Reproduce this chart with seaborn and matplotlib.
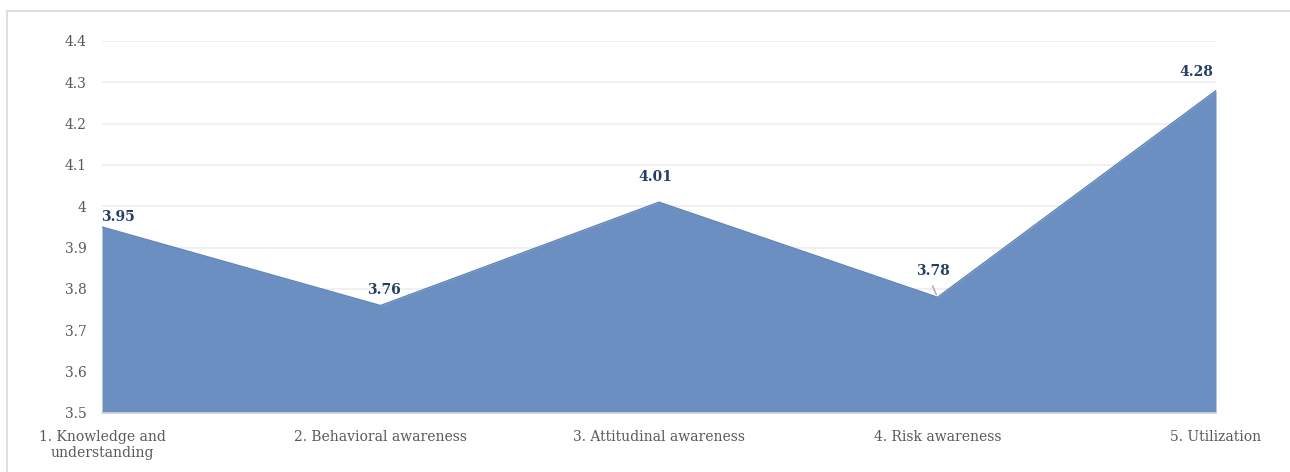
import matplotlib
matplotlib.use("Agg")
import matplotlib.pyplot as plt
import seaborn as sns
import pandas as pd
from matplotlib.lines import Line2D

categories = ["1. Knowledge and\nunderstanding", "2. Behavioral awareness",
              "3. Attitudinal awareness", "4. Risk awareness", "5. Utilization"]
scores = [3.95, 3.76, 4.01, 3.78, 4.28]
yticks = [3.5, 3.6, 3.7, 3.8, 3.9, 4.0, 4.1, 4.2, 4.3, 4.4]
ytick_labels = ["3.5", "3.6", "3.7", "3.8", "3.9", "4", "4.1", "4.2", "4.3", "4.4"]

sns.set_theme(style="white")
plt.rcParams["font.family"] = ["DejaVu Serif"]

W, H = 1290, 472
fig = plt.figure(figsize=(W / 100, H / 100), dpi=100)
left, right, top, bottom = 102, 1216, 41, 413
ax = fig.add_axes([left / W, 1 - bottom / H, (right - left) / W, (bottom - top) / H])

df = pd.DataFrame({"pos": range(len(categories)), "score": scores})
fill_color = "#6B8FC0"
ax.fill_between(df["pos"], 3.5, df["score"], color=fill_color, lw=0, zorder=2)
sns.lineplot(data=df, x="pos", y="score", ax=ax, color="#5F84B8", lw=1.0, zorder=3)

ax.set_xlim(0, len(categories) - 1)
ax.set_ylim(3.5, 4.4)
ax.set_yticks(yticks)
ax.set_yticklabels(ytick_labels)
ax.set_xticks(range(len(categories)))
ax.set_xticklabels(categories, linespacing=1.25)
ax.tick_params(axis="both", length=0, labelsize=10, labelcolor="#595959")
ax.tick_params(axis="y", pad=11)
ax.tick_params(axis="x", pad=12)
ax.set_xlabel("")
ax.set_ylabel("")
for side in ["top", "right", "left"]:
    ax.spines[side].set_visible(False)
ax.spines["bottom"].set_color("#D9D9D9")
ax.spines["bottom"].set_linewidth(1.2)
ax.spines["bottom"].set_zorder(4)
ax.yaxis.grid(True, color="#EEEEEE", lw=1.2, zorder=0)
ax.set_axisbelow(True)

# value labels, offsets in pixels from each point
offsets = [(16, 10), (3, 16), (-4, 25), (-5, 26), (-20, 19)]
label_color = "#243F66"
for i, (v, (dx, dy)) in enumerate(zip(scores, offsets)):
    ax.annotate(f"{v:.2f}", xy=(i, v), xytext=(dx, dy), textcoords="offset pixels",
                ha="center", va="center", fontsize=10, fontweight="bold",
                color=label_color, zorder=5, clip_on=False)

# leader line for the Risk awareness label
ax.annotate("", xy=(3, scores[3]), xytext=(-6, 14), textcoords="offset pixels",
            arrowprops=dict(arrowstyle="-", color="#A6A6A6", lw=1.0), zorder=5)

# chart frame edges
fig.add_artist(Line2D([7 / W, 7 / W], [0, 1 - 11 / H], color="#D9D9D9", lw=1.2))
fig.add_artist(Line2D([7 / W, 1], [1 - 11 / H, 1 - 11 / H], color="#D9D9D9", lw=1.2))

fig.savefig("out.png", dpi=100, facecolor="white")
